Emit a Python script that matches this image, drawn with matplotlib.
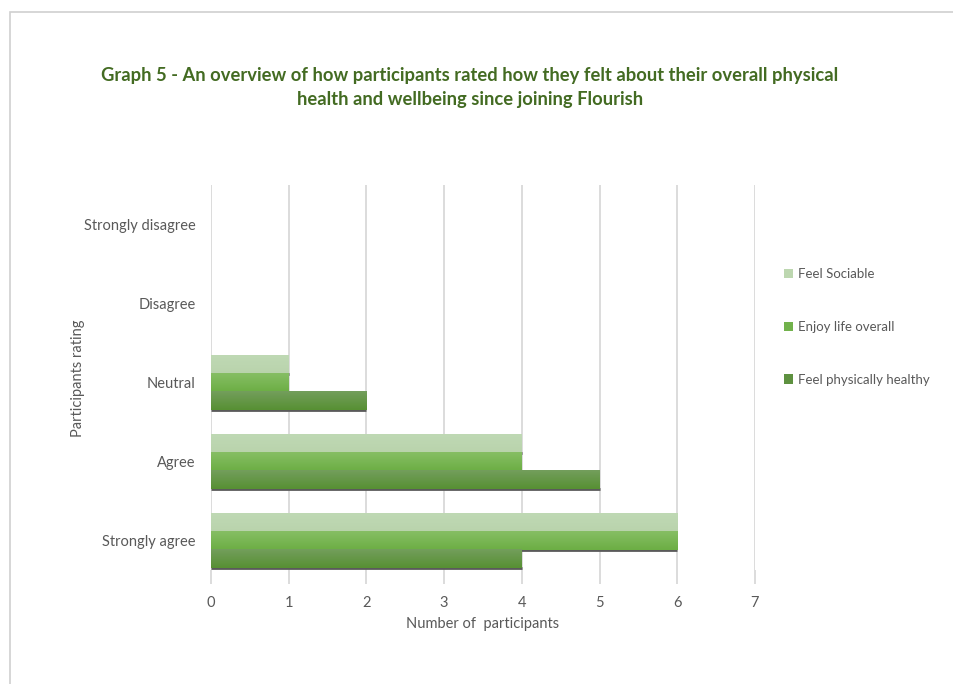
"""
Graph 5: participants' ratings of physical health and wellbeing since joining Flourish
"""
import matplotlib
matplotlib.use('Agg')
import matplotlib.pyplot as plt
from matplotlib.patches import Rectangle, Patch
from matplotlib.colors import LinearSegmentedColormap
import numpy as np

plt.rcParams.update({
    'font.family': ['Lato', 'DejaVu Sans'],
    'font.size': 10,
})

# ── Data ────────────────────────────────────────────────────
ratings = ['Strongly agree', 'Agree', 'Neutral', 'Disagree', 'Strongly disagree']
series = ['Feel Sociable', 'Enjoy life overall', 'Feel physically healthy']
feel_sociable = [6, 4, 1, 0, 0]
enjoy_life = [6, 4, 1, 0, 0]
feel_healthy = [4, 5, 2, 0, 0]
values = [feel_sociable, enjoy_life, feel_healthy]

# top / bottom shade of each series' gradient
shades = [('#BFD9B4', '#B9D3AC'),
          ('#86BE64', '#6CAE44'),
          ('#739E5C', '#579033')]
legend_colors = ['#BDD7B0', '#72B24C', '#5E9140']

TEXT = '#595959'
GRID = '#D9D9D9'
TITLE = '#436B22'

fig = plt.figure(figsize=(9.54, 6.84), dpi=100)
fig.patch.set_facecolor('white')

# outer chart frame (runs off the right and bottom edges)
fig.add_artist(Rectangle((10 / 954, -0.05), 1.2, 1 - 12 / 684 + 0.05,
                         transform=fig.transFigure, fill=False,
                         edgecolor='#D0D0D0', linewidth=1.2))

ax = fig.add_axes([211 / 954, 1 - 570 / 684, 544 / 954, 385 / 684])

y = np.arange(len(ratings))
h = 0.228
offsets = [h, 0, -h]

for k, (vals, (c_top, c_bot)) in enumerate(zip(values, shades)):
    cmap = LinearSegmentedColormap.from_list(f's{k}', [c_bot, c_top])
    grad = np.linspace(0, 1, 64).reshape(-1, 1)
    bars = ax.barh(y + offsets[k], vals, h, color=c_top, linewidth=0,
                   zorder=2 * k + 1)
    for bar in bars:
        w = bar.get_width()
        if w <= 0:
            continue
        y0 = bar.get_y()
        # dark shadow just under the bar's bottom edge (hidden by the next bar)
        ax.hlines(y0 - 0.006, 0, w, color='#5A5A5A', linewidth=2.0,
                  zorder=2 * k + 0.9)
        ax.imshow(grad, cmap=cmap, aspect='auto', origin='lower',
                  extent=(bar.get_x(), bar.get_x() + w, y0, y0 + h),
                  zorder=2 * k + 1.5, clip_path=bar, interpolation='bilinear')

ax.set_xlim(0, 7)
ax.set_ylim(-0.37, 4.5)
ax.set_xticks(range(0, 8))
ax.set_yticks(y)
ax.set_yticklabels(ratings)
ax.xaxis.grid(True, color=GRID, linewidth=1.3)
ax.set_axisbelow(True)
for s in ax.spines.values():
    s.set_visible(False)
ax.tick_params(axis='x', length=10, width=1.3, color=GRID, pad=9,
               labelcolor=TEXT, labelsize=10.5)
ax.tick_params(axis='y', length=0, pad=11, labelcolor=TEXT, labelsize=10.5)

ax.set_xlabel('Number of  participants', color=TEXT, fontsize=10.5, labelpad=5)
fig.text(78 / 954, 1 - 378 / 684, 'Participants rating', rotation=90,
         color=TEXT, fontsize=10.5, ha='center', va='center')

fig.text(470 / 954, 1 - 75 / 684,
         'Graph 5 - An overview of how participants rated how they felt about their overall physical',
         color=TITLE, fontsize=13.2, fontweight='bold', ha='center', va='center')
fig.text(470 / 954, 1 - 99 / 684,
         'health and wellbeing since joining Flourish',
         color=TITLE, fontsize=13.2, fontweight='bold', ha='center', va='center')

handles = [Patch(facecolor=c, edgecolor='none') for c in legend_colors]
fig.legend(handles, series, loc='upper left', bbox_to_anchor=(772 / 954, 1 - 256 / 684),
           frameon=False, fontsize=9.5, labelcolor=TEXT, handlelength=0.7,
           handleheight=0.7, handletextpad=0.4, labelspacing=3.1)

fig.savefig('out.png', dpi=100, facecolor='white')
